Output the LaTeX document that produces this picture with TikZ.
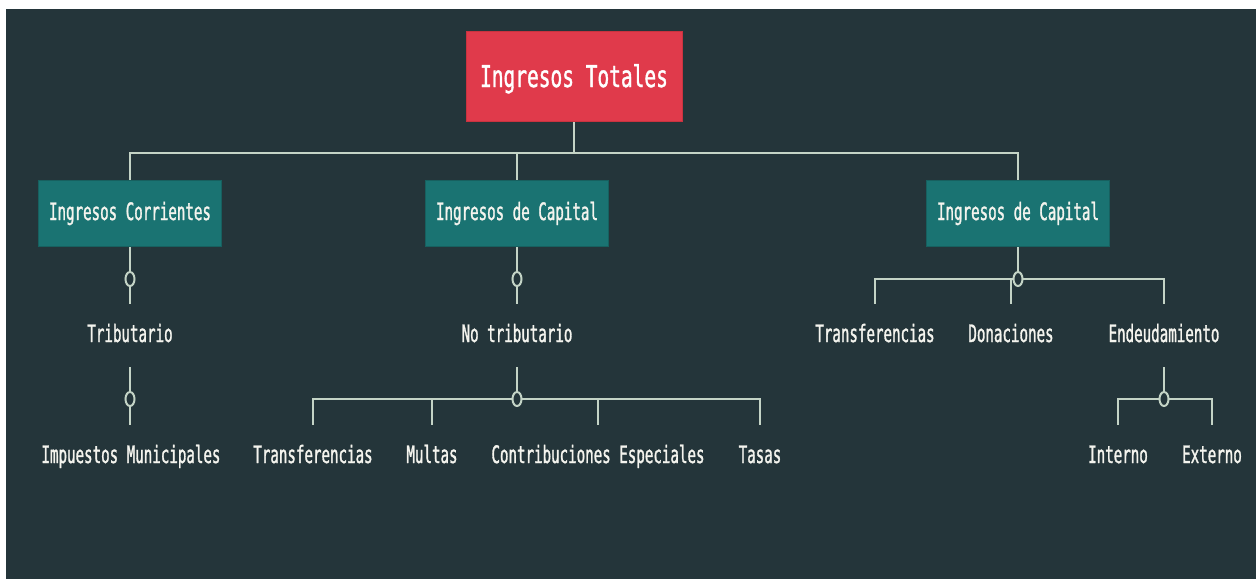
\documentclass[tikz,border=0pt]{standalone}
\usepackage{fontspec}
\newfontfamily\monof[FakeStretch=0.59,FakeBold=1.2]{DejaVu Sans Mono}
\newfontfamily\titlef[FakeStretch=0.65,FakeBold=1.2]{DejaVu Sans Mono}
\usetikzlibrary{shapes.geometric}
\definecolor{bgc}{HTML}{24353A}
\definecolor{redc}{HTML}{E03A4B}
\definecolor{redd}{HTML}{C9333F}
\definecolor{tealc}{HTML}{1A7372}
\definecolor{teald}{HTML}{17605F}
\definecolor{linec}{HTML}{C4D4C6}
\definecolor{txtc}{HTML}{F4F4EE}
\pgfdeclarelayer{back}
\pgfdeclarelayer{lines}
\pgfsetlayers{back,lines,main}
\tikzset{
  titlebox/.style={rectangle, fill=redc, draw=redd, line width=1pt,
    minimum width=216pt, minimum height=90pt, inner sep=0pt, text=white,
    font=\titlef\fontsize{30}{36}\selectfont, text height=22pt, text depth=0pt},
  catbox/.style={rectangle, fill=tealc, draw=teald, line width=1pt,
    minimum width=183pt, minimum height=66pt, inner sep=0pt, text=txtc,
    font=\monof\fontsize{24}{28}\selectfont, text height=18pt, text depth=4pt},
  leaf/.style={anchor=base, inner xsep=0pt, inner ysep=20pt, text=txtc,
    font=\monof\fontsize{24}{28}\selectfont, text height=18pt, text depth=5pt},
  knot/.style={ellipse, draw=linec, fill=bgc, line width=2pt,
    minimum width=9pt, minimum height=14pt, inner sep=0pt},
  ln/.style={draw=linec, line width=2pt}
}
\begin{document}
\begin{tikzpicture}[x=1pt,y=-1pt]
\useasboundingbox (0,0) rectangle (1256,579);
\begin{pgfonlayer}{back}
\fill[white] (0,0) rectangle (1256,579);
\fill[bgc] (6,9) rectangle (1256,579);
\end{pgfonlayer}

% boxes
\node[titlebox] (top) at (574,76) {Ingresos Totales};
\node[catbox] (c1) at (130,213) {Ingresos Corrientes};
\node[catbox] (c2) at (517,213) {Ingresos de Capital};
\node[catbox] (c3) at (1018,213) {Ingresos de Capital};

% texts
\node[leaf] (trib) at (130,342) {Tributario};
\node[leaf] (notrib) at (517,342) {No tributario};
\node[leaf] (tr2) at (875,342) {Transferencias};
\node[leaf] (don) at (1011,342) {Donaciones};
\node[leaf] (endeu) at (1164,342) {Endeudamiento};
\node[leaf] (imp) at (131,463) {Impuestos Municipales};
\node[leaf] (tr1) at (313,463) {Transferencias};
\node[leaf] (mul) at (432,463) {Multas};
\node[leaf] (con) at (598,463) {Contribuciones Especiales};
\node[leaf] (tas) at (760,463) {Tasas};
\node[leaf] (int) at (1118,463) {Interno};
\node[leaf] (ext) at (1212,463) {Externo};

% knots
\node[knot] (k1) at (130,279) {};
\node[knot] (k2) at (130,399) {};
\node[knot] (k3) at (517,279) {};
\node[knot] (k4) at (517,399) {};
\node[knot] (k5) at (1018,279) {};
\node[knot] (k6) at (1164,399) {};

\coordinate (hub) at (574,153);

\begin{pgfonlayer}{lines}
% top level
\draw[ln] (top.south) -- (hub);
\draw[ln] (c1.north) |- (hub) -| (c3.north);
\draw[ln] (c2.north) -- (c2.north |- hub);
% column 1
\draw[ln] (c1.south) -- (k1.center) -- (k1.center |- trib.north);
\draw[ln] (k2.center |- trib.south) -- (k2.center) -- (k2.center |- imp.north);
% column 2
\draw[ln] (c2.south) -- (k3.center) -- (k3.center |- notrib.north);
\draw[ln] (k4.center |- notrib.south) -- (k4.center);
\draw[ln] (tr1.north) |- (k4.center) -| (tas.north);
\draw[ln] (mul.north) -- (mul.north |- k4.center);
\draw[ln] (con.north) -- (con.north |- k4.center);
% column 3
\draw[ln] (c3.south) -- (k5.center);
\draw[ln] (tr2.north) |- (k5.center) -| (endeu.north);
\draw[ln] (don.north) -- (don.north |- k5.center);
\draw[ln] (k6.center |- endeu.south) -- (k6.center);
\draw[ln] (int.north) |- (k6.center) -| (ext.north);
\end{pgfonlayer}
\end{tikzpicture}
\end{document}
